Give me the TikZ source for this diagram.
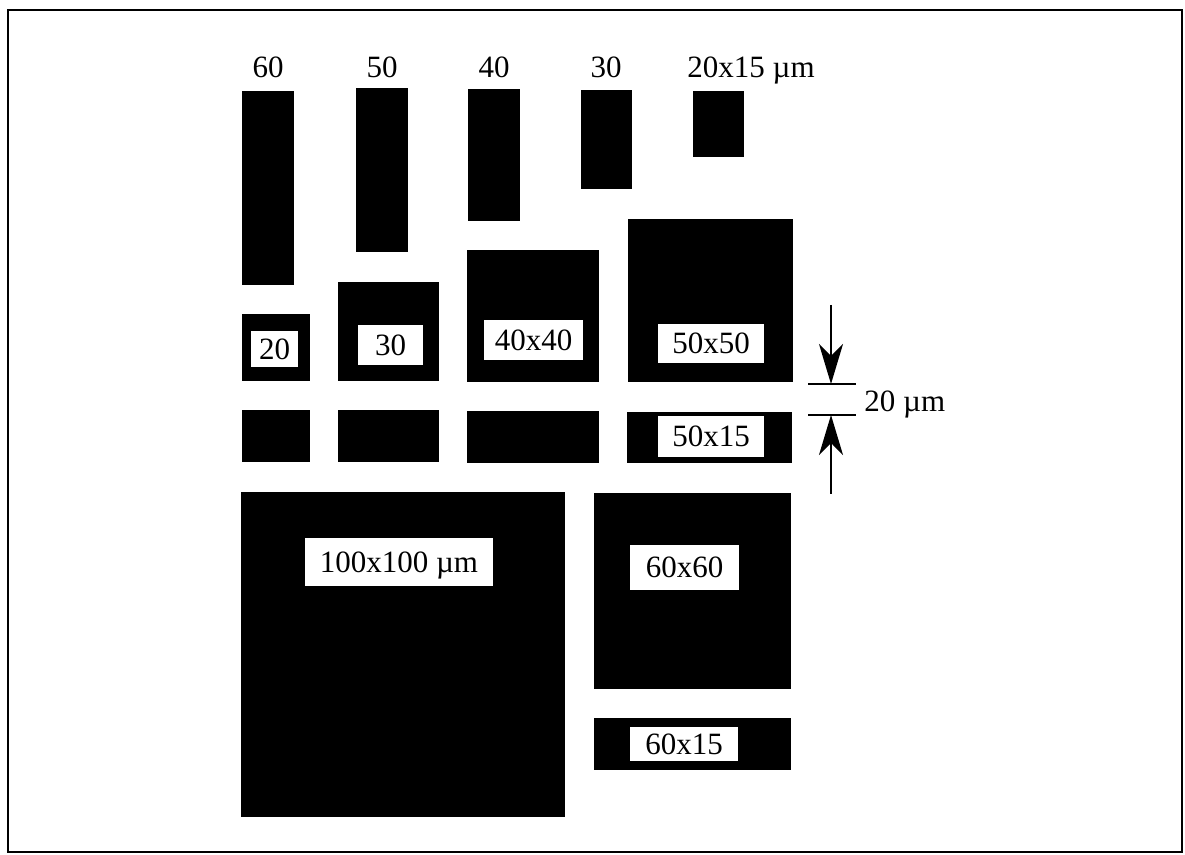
\documentclass[tikz,border=0pt]{standalone}
\usepackage{fontspec}
\setmainfont{Liberation Serif}
\usetikzlibrary{fit,arrows.meta}
\begin{document}
\begin{tikzpicture}[x=0.5pt,y=-0.5pt,
  bar/.style={fill=black,inner sep=0pt,outer sep=0pt},
  wbox/.style={fill=white,inner sep=0pt,outer sep=0pt,font=\fontsize{15.5}{18}\selectfont,
    text height=10.5pt,text depth=0pt,align=center},
  toplab/.style={anchor=base,inner sep=0pt,font=\fontsize{15.5}{18}\selectfont},
  dimline/.style={line width=0.9pt},
  dimarrow/.style={line width=0.9pt,-{Stealth[length=20pt,width=12pt,inset=6pt]}}]
\useasboundingbox (0,0) rectangle (1185,855);
\draw[line width=1.4pt] (8,10) rectangle (1182,852);
% top row bars
\node[bar,fit={(242,91)(294,285)}] (b60) {};
\node[bar,fit={(356,88)(408,252)}] (b50) {};
\node[bar,fit={(468,89)(520,221)}] (b40) {};
\node[bar,fit={(581,90)(632,189)}] (b30) {};
\node[bar,fit={(693,91)(744,157)}] (b20) {};
\node[toplab] (t60) at (268,78) {60};
\node[toplab] (t50) at (382,78) {50};
\node[toplab] (t40) at (494,78) {40};
\node[toplab] (t30) at (606,78) {30};
\node[toplab,anchor=base west] (t20) at (687,78) {20x15 µm};
% second row squares
\node[bar,fit={(242,314)(310,381)}] (s20) {};
\node[bar,fit={(338,282)(439,381)}] (s30) {};
\node[bar,fit={(467,250)(599,382)}] (s40) {};
\node[bar,fit={(628,219)(793,382)}] (s50) {};
\node[wbox,minimum width=23.5pt,minimum height=18pt] (l20) at (274.5,349) {20};
\node[wbox,minimum width=32.5pt,minimum height=20pt] (l30) at (390.5,345) {30};
\node[wbox,minimum width=49.5pt,minimum height=20pt] (l40) at (533.5,340) {40x40};
\node[wbox,minimum width=53pt,minimum height=19.5pt] (l50) at (711,343.5) {50x50};
% third row
\node[bar,fit={(242,410)(310,462)}] (r20) {};
\node[bar,fit={(338,410)(439,462)}] (r30) {};
\node[bar,fit={(467,411)(599,463)}] (r40) {};
\node[bar,fit={(627,412)(792,463)}] (r50) {};
\node[wbox,minimum width=53pt,minimum height=20.5pt] (l5015) at (711,436.5) {50x15};
% big squares
\node[bar,fit={(241,492)(565,817)}] (big) {};
\node[wbox,minimum width=94pt,minimum height=24pt] (lbig) at (399,562) {100x100 µm};
\node[bar,fit={(594,493)(791,689)}] (s60) {};
\node[wbox,minimum width=54.5pt,minimum height=22.5pt] (l60) at (684.5,567.5) {60x60};
\node[bar,fit={(594,718)(791,770)}] (r60) {};
\node[wbox,minimum width=54pt,minimum height=17pt] (l6015) at (684,744) {60x15};
% dimension
\coordinate (d1a) at (808,384);
\coordinate (d1b) at (856,384);
\coordinate (d2a) at (808,415);
\coordinate (d2b) at (856,415);
\coordinate (ta) at (831,305);
\coordinate (tb) at (831,384);
\coordinate (ua) at (831,494);
\coordinate (ub) at (831,415);
\draw[dimline] (d1a) -- (d1b);
\draw[dimline] (d2a) -- (d2b);
\draw[dimarrow] (ta) -- (tb);
\draw[dimarrow] (ua) -- (ub);
\node[anchor=west,inner sep=0pt,font=\fontsize{15.5}{18}\selectfont] (dl) at (864,404) {20 µm};
\end{tikzpicture}
\end{document}
